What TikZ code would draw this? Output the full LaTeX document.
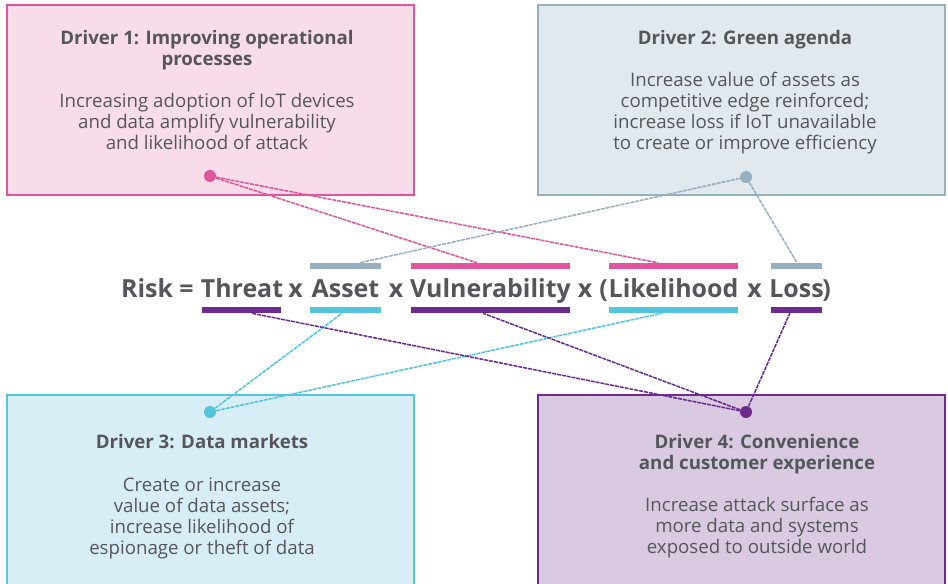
\documentclass[tikz,border=0pt]{standalone}
\usepackage{fontspec}
\setmainfont{Open Sans}
\usetikzlibrary{fit,calc}
\definecolor{txt}{HTML}{55565A}
\definecolor{pinkc}{HTML}{E0559D}
\definecolor{pinkf}{HTML}{F8DCEA}
\definecolor{greyc}{HTML}{97B0BF}
\definecolor{greyf}{HTML}{E2E9EE}
\definecolor{cyanc}{HTML}{53C6DE}
\definecolor{cyanf}{HTML}{D8EEF6}
\definecolor{purc}{HTML}{6D2B8F}
\definecolor{purf}{HTML}{D9CAE2}
\begin{document}
\begin{tikzpicture}[x=0.75pt,y=-0.75pt,
 box/.style={draw=#1c, fill=#1f, line width=1.5pt, inner sep=0pt},
 bar/.style={fill=#1, inner sep=0pt},
 dot/.style={circle, fill=#1, inner sep=0pt, minimum size=9pt},
 link/.style={draw=#1, line width=1.15pt, dash pattern=on 3pt off 0.7pt},
 ttl/.style={font=\fontsize{14}{15.75}\selectfont\bfseries, text=txt, align=center, anchor=north, inner sep=0pt},
 bdy/.style={font=\fontsize{14}{15.75}\selectfont, text=txt, align=center, anchor=north, inner sep=0pt},
 eq/.style={font=\fontsize{18.7}{22}\selectfont\bfseries, text=txt, inner sep=0pt, anchor=base},
]
\useasboundingbox (0,0) rectangle (948,583);
\begin{scope}
\clip (0,0) rectangle (948,583);
\node[box=pink, fit={(7,5)(414,195)}] (b1) {};
\node[box=grey, fit={(538,5)(945,195)}] (b2) {};
\node[box=cyan, fit={(7,395)(414,600)}] (b3) {};
\node[box=pur, fit={(538,395)(945,600)}] (b4) {};
\end{scope}

% box texts
\node[ttl] (t1) at (207,30) {Driver 1: Improving operational\\processes};
\node[bdy] (x1) at (207,93) {Increasing adoption of IoT devices\\and data amplify vulnerability\\and likelihood of attack};
\node[ttl] (t2) at (745,30) {Driver 2: Green agenda};
\node[bdy] (x2) at (745,72) {Increase value of assets as\\competitive edge reinforced;\\increase loss if IoT unavailable\\to create or improve efficiency};
\node[ttl] (t3) at (202,434) {Driver 3: Data markets};
\node[bdy] (x3) at (202,478) {Create or increase\\value of data assets;\\increase likelihood of\\espionage or theft of data};
\node[ttl] (t4) at (757,434) {Driver 4: Convenience\\and customer experience};
\node[bdy] (x4) at (757,497) {Increase attack surface as\\more data and systems\\exposed to outside world};

% equation
\node[eq, anchor=base east] (wR) at (194,297) {Risk =};
\node[eq] (wT) at (242,297) {Threat};
\node[eq] (x01) at (295.5,297) {x};
\node[eq] (wA) at (345.5,297) {Asset};
\node[eq] (x02) at (396,297) {x};
\node[eq] (wV) at (490.5,297) {Vulnerability};
\node[eq] (x03) at (585,297) {x};
\node[eq, anchor=base east] (pL) at (608,297) {(};
\node[eq] (wL) at (673.5,297) {Likelihood};
\node[eq] (x04) at (754.5,297) {x};
\node[eq] (wLo) at (796.5,297) {Loss};
\node[eq, anchor=base west] (pR) at (822,297) {)};

% bars
\node[bar=greyc, fit={(310,263)(381,269)}] (bAt) {};
\node[bar=pinkc, fit={(411,263)(570,269)}] (bVt) {};
\node[bar=pinkc, fit={(609,263)(738,269)}] (bLt) {};
\node[bar=greyc, fit={(771,263)(822,269)}] (bLot) {};
\node[bar=purc, fit={(202,307)(281,313)}] (bTb) {};
\node[bar=cyanc, fit={(310,307)(381,313)}] (bAb) {};
\node[bar=purc, fit={(411,307)(570,313)}] (bVb) {};
\node[bar=cyanc, fit={(609,307)(738,313)}] (bLb) {};
\node[bar=purc, fit={(771,307)(822,313)}] (bLob) {};

% dots
\node[dot=pinkc] (d1) at (210,176) {};
\node[dot=greyc] (d2) at (746,177) {};
\node[dot=cyanc] (d3) at (210,412) {};
\node[dot=purc] (d4) at (746,412) {};

% connectors
\draw[link=pinkc] (d1) -- ($(bVt.north west)!0.415!(bVt.north east)$);
\draw[link=pinkc] (d1) -- ($(bLt.north west)!0.38!(bLt.north east)$);
\draw[link=greyc] (d2) -- ($(bAt.north west)!0.70!(bAt.north east)$);
\draw[link=greyc] (d2) -- ($(bLot.north west)!0.51!(bLot.north east)$);
\draw[link=cyanc] (d3) -- ($(bAb.south west)!0.45!(bAb.south east)$);
\draw[link=cyanc] (d3) -- ($(bLb.south west)!0.41!(bLb.south east)$);
\draw[link=purc] (d4) -- ($(bTb.south west)!0.63!(bTb.south east)$);
\draw[link=purc] (d4) -- ($(bVb.south west)!0.453!(bVb.south east)$);
\draw[link=purc] (d4) -- ($(bLob.south west)!0.37!(bLob.south east)$);
\end{tikzpicture}
\end{document}
